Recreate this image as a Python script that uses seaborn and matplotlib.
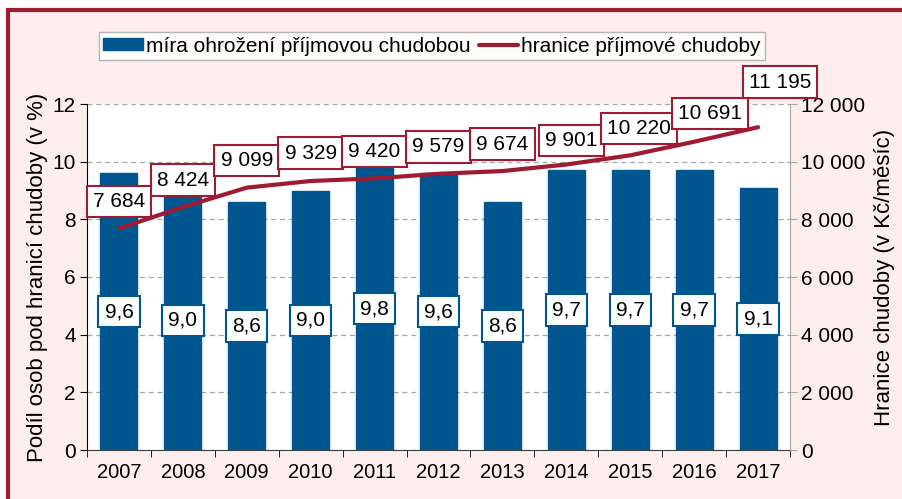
import numpy as np
import matplotlib
matplotlib.use('Agg')
import matplotlib.pyplot as plt
import matplotlib.patches as patches
import matplotlib.ticker as mticker
import seaborn as sns

years = ['2007', '2008', '2009', '2010', '2011', '2012', '2013', '2014', '2015', '2016', '2017']
rate = [9.6, 9.0, 8.6, 9.0, 9.8, 9.6, 8.6, 9.7, 9.7, 9.7, 9.1]
threshold = [7684, 8424, 9099, 9329, 9420, 9579, 9674, 9901, 10220, 10691, 11195]
bar_name = 'míra ohrožení příjmovou chudobou'
line_name = 'hranice příjmové chudoby'
left_label = 'Podíl osob pod hranicí chudoby (v %)'
right_label = 'Hranice chudoby (v Kč/měsíc)'

blue = '#00568F'
red = '#9E1B32'
pink = '#FDEDED'

sns.set_style('white')
plt.rcParams['font.family'] = ['Liberation Sans', 'DejaVu Sans']
plt.rcParams['text.color'] = 'black'
plt.rcParams['axes.labelcolor'] = 'black'
plt.rcParams['xtick.color'] = 'black'
plt.rcParams['ytick.color'] = 'black'

fig = plt.figure(figsize=(9.03, 4.99), dpi=100)
fig.patch.set_facecolor('white')
# pink frame with red border, running off the right/bottom edge
fig.patches.append(patches.Rectangle((8 / 903, -0.05), 1.1, 1 - 10 / 499 + 0.05,
                                     transform=fig.transFigure, facecolor=pink,
                                     edgecolor=red, linewidth=3, zorder=-10))

ax = fig.add_axes([87 / 903, 49 / 499, 703 / 903, 346 / 499])
ax.set_facecolor('white')
sns.barplot(x=years, y=rate, color=blue, width=0.58, saturation=1, ax=ax,
            edgecolor=blue, zorder=3)
ax.set_ylim(0, 12)
ax.set_xlim(-0.5, len(years) - 0.5)
ax.set_yticks(range(0, 13, 2))
ax.yaxis.grid(True, linestyle=(0, (4, 3)), color='#a6a6a6', linewidth=0.9, zorder=0)
ax.set_axisbelow(True)
for s in ['top', 'right']:
    ax.spines[s].set_visible(False)
ax.spines['left'].set_color('black')
ax.spines['bottom'].set_color('#404040')
ax.tick_params(axis='y', labelsize=15, length=5, direction='out', left=True, pad=3)
ax.tick_params(axis='x', which='major', labelsize=14.5, length=0, pad=9)
ax.set_xticks(np.arange(-0.5, len(years), 1), minor=True)
ax.tick_params(axis='x', which='minor', length=5, direction='out', bottom=True)
ax.set_xlabel('')
ax.set_ylabel(left_label, fontsize=16, labelpad=3)

for i, v in enumerate(rate):
    ax.text(i, v / 2, f'{v:.1f}'.replace('.', ','), ha='center', va='center', fontsize=15,
            zorder=5, bbox=dict(boxstyle='square,pad=0.3', fc='white', ec=blue, lw=1.5))

ax2 = ax.twinx()
sns.lineplot(x=np.arange(len(years)), y=threshold, color=red, linewidth=3, ax=ax2,
             zorder=4)
ax2.set_ylim(0, 12000)
ax2.set_yticks(range(0, 12001, 2000))
ax2.yaxis.set_major_formatter(mticker.FuncFormatter(lambda v, p: f'{int(v):,}'.replace(',', ' ')))
for s in ['top', 'left', 'bottom']:
    ax2.spines[s].set_visible(False)
ax2.spines['right'].set_color('#a6a6a6')
ax2.tick_params(axis='y', labelsize=15, length=5, direction='out', right=True, color='#a6a6a6', pad=3)
ax2.set_ylabel(right_label, fontsize=16, labelpad=6)

dx = [0, 0, 0, 0, 0, 0, 0, 5, 9, 16, 22]
dy = [27, 27, 27, 28, 27, 27, 27, 24, 27, 28, 45]
for i, v in enumerate(threshold):
    ax2.annotate(f'{v:,}'.replace(',', ' '), (i, v), xytext=(dx[i] * 0.72, dy[i] * 0.72),
                 textcoords='offset points', ha='center', va='center', fontsize=15,
                 annotation_clip=False, zorder=6,
                 bbox=dict(boxstyle='square,pad=0.3', fc='white', ec=red, lw=1.5))

handles = [patches.Patch(color=blue), plt.Line2D([], [], color=red, lw=3)]
fig.legend(handles, [bar_name, line_name], loc='center', bbox_to_anchor=(432 / 903, 1 - 46 / 499),
           ncol=2, fontsize=15, frameon=True, fancybox=False, edgecolor='#a6a6a6',
           handlelength=1.9, handleheight=0.5, handletextpad=0.15, columnspacing=0.4,
           borderpad=0.2, borderaxespad=0)
fig.legends[0].get_frame().set_linewidth(1)

fig.savefig('out.png', dpi=100)
